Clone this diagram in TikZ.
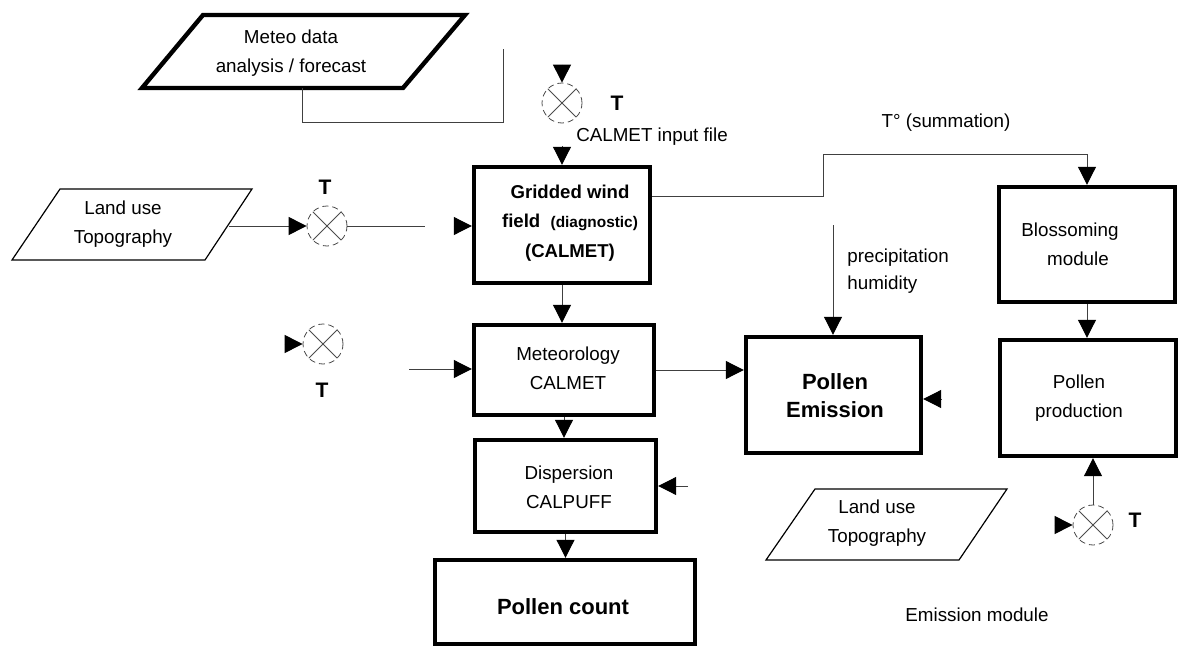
\documentclass[tikz,border=0pt]{standalone}
\usepackage{fontspec}
\setmainfont{Liberation Sans}
\usetikzlibrary{arrows.meta,calc}
\begin{document}
\begin{tikzpicture}[x=0.5pt,y=-0.5pt,
  conn/.style={draw=black!75, line width=0.5pt},
  arr/.style={conn, -{Triangle[length=9pt,width=9pt,color=black]}},
  box/.style={draw=black, line width=2.2pt, rectangle, inner sep=0pt},
  txt/.style={font=\fontsize{9.4}{14.5}\selectfont, align=center, inner sep=0pt},
  btxt/.style={font=\bfseries\fontsize{9.3}{14.8}\selectfont, align=center, inner sep=0pt},
  big/.style={font=\bfseries\fontsize{11}{14}\selectfont, align=center, inner sep=0pt},
  tlab/.style={font=\bfseries\fontsize{10.5}{12}\selectfont, inner sep=0pt},
  xcirc/.style={circle, draw=black!70, densely dashed, line width=0.4pt, minimum size=20pt, inner sep=0pt,
    path picture={\draw[black!70, line width=0.4pt, solid]
      (path picture bounding box.north west) -- (path picture bounding box.south east)
      (path picture bounding box.north east) -- (path picture bounding box.south west);}}
]
\fill[white] (0,0) rectangle (1196,648);
\useasboundingbox (0,0) rectangle (1196,648);

% boxes
\node[box, minimum width=88pt, minimum height=58pt] (grid) at (562,225) {};
\node[btxt] (gridt) at (570,223) {Gridded wind\\field~~{\fontsize{7.7}{9}\selectfont(diagnostic)}\\(CALMET)};
\node[box, minimum width=90pt, minimum height=45pt] (met) at (564,370) {};
\node[txt] (mett) at (568,368) {Meteorology\\CALMET};
\node[box, minimum width=90.5pt, minimum height=46pt] (disp) at (565.5,486) {};
\node[txt] (dispt) at (569,487) {Dispersion\\CALPUFF};
\node[box, minimum width=130pt, minimum height=42pt] (count) at (565,602) {};
\node[big] (countt) at (563,607) {Pollen count};
\node[box, minimum width=87.5pt, minimum height=58pt] (emis) at (833.5,395) {};
\node[big] (emist) at (835,396) {Pollen\\Emission};
\node[box, minimum width=88pt, minimum height=57.5pt] (blos) at (1087,244.5) {};
\node[txt] (blost) at (1070,244) {Blossoming\\\hspace*{8pt}module};
\node[box, minimum width=88pt, minimum height=58pt] (prod) at (1088,398) {};
\node[txt] (prodt) at (1079,398) {Pollen\\production};

% parallelograms
\draw[line width=2.2pt, line join=miter] (203,15) -- (465,15) -- (403,88) -- (142,88) -- cycle;
\node[txt] (meteot) at (291,53) {Meteo data\\analysis / forecast};
\coordinate (meteoB) at (302,88);
\draw[line width=0.6pt] (60,189) -- (252,189) -- (205,260) -- (12,260) -- cycle;
\node[txt] (lu1t) at (123,224) {Land use\\Topography};
\coordinate (lu1E) at (229,226);
\draw[line width=0.6pt] (815,489) -- (1007,489) -- (959,560) -- (766,560) -- cycle;
\node[txt] (lu2t) at (877,523) {Land use\\Topography};

% circles
\node[xcirc] (c1) at (562,103) {};
\node[xcirc] (c2) at (327,226) {};
\node[xcirc] (c3) at (323,344) {};
\node[xcirc] (c4) at (1093,525) {};
\node[tlab] (t1) at (617,103) {T};
\node[tlab] (t2) at (325,187) {T};
\node[tlab] (t3) at (322,390) {T};
\node[tlab] (t4) at (1135,520) {T};

% labels
\node[txt] (calin) at (652,137) {CALMET input file};
\node[txt] (tsum) at (946,123) {T° (summation)};
\node[txt, align=left, anchor=west, font=\fontsize{9.4}{13.5}\selectfont] (prec) at (847,271.5) {precipitation\\humidity};
\node[txt] (emmod) at (977,615) {Emission module};

% connectors
\coordinate (m1) at (503,49);
\draw[conn] (meteoB) -- ++(0,34) -| (m1);
\draw[arr] ($(c1.north)+(0,-18)$) -- (c1.north);
\coordinate (ci) at (562,146);
\draw[arr] (ci) -- (ci |- grid.north);
\draw[arr] (lu1E) -- (c2.west);
\coordinate (g1) at (425,226);
\draw[conn] (c2.east) -- (g1);
\draw[arr] ($(grid.west)+(-18,1)$) -- ($(grid.west)+(0,1)$);
\draw[arr] (grid.south) -- (grid.south |- met.north);
\draw[arr] ($(c3.west)+(-18,0)$) -- (c3.west);
\coordinate (m2) at (409,369);
\draw[arr] (m2) -- (m2 -| met.west);
\draw[arr] (met.east) -- (met.east -| emis.west);
\draw[arr] (met.south) -- (met.south |- disp.north);
\coordinate (d1) at (688,486);
\draw[arr] (d1) -- (d1 -| disp.east);
\draw[arr] (disp.south) -- (disp.south |- count.north);
\coordinate (p1) at (833,225);
\draw[arr] (p1) -- (p1 |- emis.north);
\draw[arr] ($(emis.east)+(18,4)$) -- ($(emis.east)+(0,4)$);
\draw[arr] ($(grid.east)+(0,-29)$) -| (823,154) -| (blos.north);
\draw[arr] (blos.south) -- (blos.south |- prod.north);
\draw[arr] (c4.north) -- (c4.north |- prod.south);
\draw[arr] ($(c4.west)+(-18,0)$) -- (c4.west);
\end{tikzpicture}
\end{document}
